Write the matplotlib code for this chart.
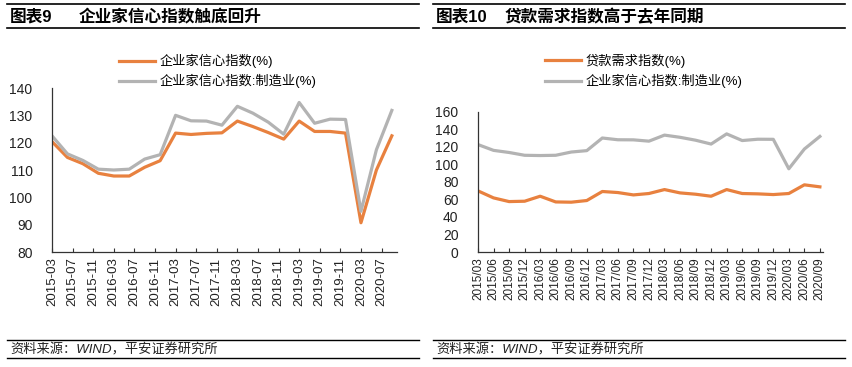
import numpy as np
import matplotlib
matplotlib.use("Agg")
import matplotlib.pyplot as plt
from matplotlib.lines import Line2D

plt.rcParams['font.family'] = ['Liberation Sans', 'Noto Sans CJK SC', 'DejaVu Sans']
plt.rcParams['axes.unicode_minus'] = False

# données trimestrielles 2015-03 -> 2020-09
trimestres = ["2015/03", "2015/06", "2015/09", "2015/12", "2016/03", "2016/06", "2016/09", "2016/12",
              "2017/03", "2017/06", "2017/09", "2017/12", "2018/03", "2018/06", "2018/09", "2018/12",
              "2019/03", "2019/06", "2019/09", "2019/12", "2020/03", "2020/06", "2020/09"]
confiance = [120.4, 114.6, 112.3, 108.8, 107.8, 107.8, 111.0, 113.4,
             123.5, 123.0, 123.4, 123.6, 127.9, 125.9, 123.7, 121.3,
             127.9, 124.1, 124.1, 123.5, 90.7, 110.0, 122.5]
confiance_manuf = [122.5, 115.9, 113.5, 110.3, 110.0, 110.3, 114.0, 115.6,
                   130.0, 128.0, 127.9, 126.4, 133.3, 130.8, 127.5, 123.1,
                   134.7, 127.1, 128.6, 128.5, 94.9, 117.4, 131.8]
demande_pret = [69.7, 61.7, 57.5, 57.9, 63.6, 57.1, 56.8, 58.7,
                69.0, 67.8, 65.1, 66.7, 71.2, 67.4, 65.9, 63.6,
                71.2, 66.7, 66.3, 65.5, 66.7, 76.6, 74.3]
ticks_gauche = ["2015-03", "2015-07", "2015-11", "2016-03", "2016-07", "2016-11", "2017-03", "2017-07",
                "2017-11", "2018-03", "2018-07", "2018-11", "2019-03", "2019-07", "2019-11", "2020-03",
                "2020-07"]

ORANGE = '#E8813F'
GRIS = '#B3B3B3'
W, H = 852, 367


def mois(s):
    """nombre de mois depuis 2015-03"""
    a, m = s.replace('/', '-').split('-')
    return (int(a) - 2015) * 12 + int(m) - 3


def fx(px):
    return px / W


def fy(py):
    return 1 - py / H


fig = plt.figure(figsize=(W / 100, H / 100), dpi=100)

# titres et lignes des deux panneaux
for x0, x1, num, titre in [(7, 419, "图表9", "企业家信心指数触底回升"),
                           (433, 845, "图表10", "贷款需求指数高于去年同期")]:
    for py, lw in [(4.3, 1.2), (28.3, 1.2), (340, 1.0), (358.3, 1.0)]:
        fig.add_artist(Line2D([fx(x0), fx(x1)], [fy(py), fy(py)], color='black', lw=lw))
    fig.text(fx(x0 + 3), fy(17), num, fontsize=12, fontweight='bold', va='center')
    fig.text(fx(x0 + 72), fy(17), titre, fontsize=12, fontweight='bold', va='center')
    fig.text(fx(x0 + 3), fy(350), "资料来源：WIND，平安证券研究所", fontsize=9.5,
             style='italic', va='center', color='#222222')


def style_axes(ax):
    for s in ['top', 'right']:
        ax.spines[s].set_visible(False)
    for s in ['left', 'bottom']:
        ax.spines[s].set_color('#333333')
        ax.spines[s].set_linewidth(0.9)
    ax.tick_params(axis='y', length=0, labelsize=10, pad=14, labelcolor='#222222')
    ax.tick_params(axis='x', direction='in', length=3, width=0.8, color='#333333',
                   labelsize=9.5, rotation=90, pad=4, labelcolor='#222222')


# --- graphique 9 ---
ax1 = fig.add_axes([fx(52), fy(252), fx(397 - 52), (252 - 88) / H])
xm = [mois(t) for t in trimestres]
ax1.plot(xm, confiance, color=ORANGE, lw=2.3, label="企业家信心指数(%)")
ax1.plot(xm, confiance_manuf, color=GRIS, lw=2.3, label="企业家信心指数:制造业(%)")
ax1.set_ylim(80, 140)
ax1.set_yticks(np.arange(80, 141, 10))
ax1.set_xlim(0, 67)
ax1.set_xticks([mois(t) for t in ticks_gauche])
ax1.set_xticklabels(ticks_gauche)
style_axes(ax1)
ax1.legend(loc='upper left', bbox_to_anchor=(fx(119), fy(54)), bbox_transform=fig.transFigure,
           frameon=False, fontsize=9.5, handlelength=2.7, handletextpad=0.35,
           labelspacing=0.45, borderpad=0, borderaxespad=0)

# --- graphique 10 ---
ax2 = fig.add_axes([fx(478), fy(252), fx(823 - 478), (252 - 111.7) / H])
xi = np.arange(len(trimestres))
ax2.plot(xi, demande_pret, color=ORANGE, lw=2.3, label="贷款需求指数(%)")
ax2.plot(xi, confiance_manuf, color=GRIS, lw=2.3, label="企业家信心指数:制造业(%)")
ax2.set_ylim(0, 160)
ax2.set_yticks(np.arange(0, 161, 20))
ax2.set_xlim(0, len(trimestres) - 0.8)
ax2.set_xticks(xi)
ax2.set_xticklabels(trimestres)
style_axes(ax2)
ax2.tick_params(axis='x', labelsize=8.5)
ax2.legend(loc='upper left', bbox_to_anchor=(fx(545), fy(54)), bbox_transform=fig.transFigure,
           frameon=False, fontsize=9.5, handlelength=2.7, handletextpad=0.35,
           labelspacing=0.45, borderpad=0, borderaxespad=0)

fig.savefig("out.png", dpi=100)
